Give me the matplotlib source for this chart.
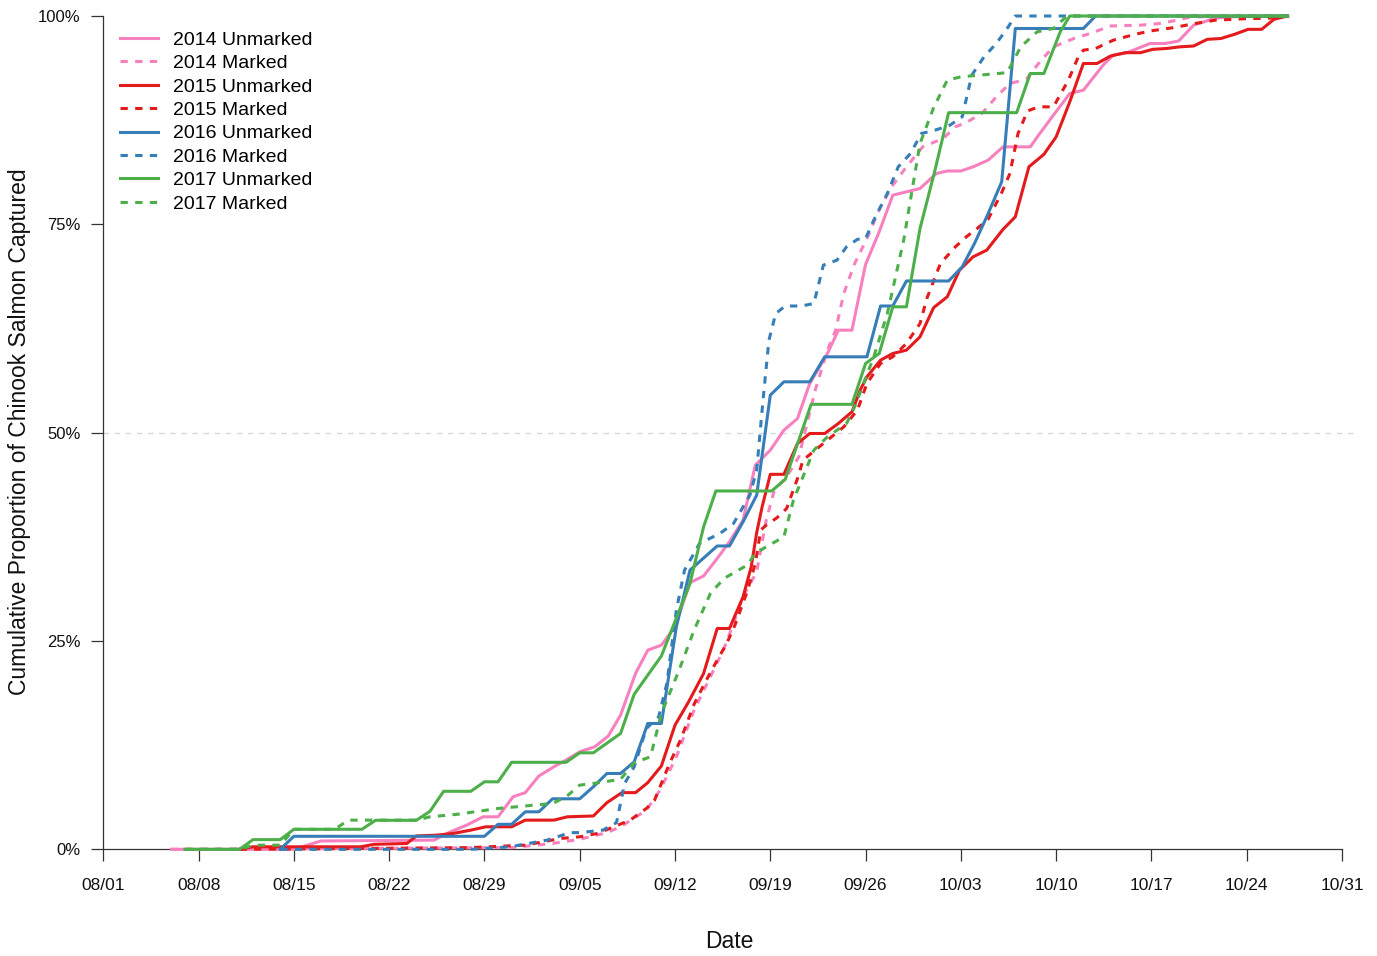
import matplotlib
matplotlib.use("Agg")
import matplotlib.pyplot as plt
import numpy as np

plt.rcParams['font.family'] = ['Liberation Sans', 'DejaVu Sans']

# ---------------- data (days since 08/01, cumulative % captured) ----------------
tick_days = [0, 7, 14, 21, 28, 35, 42, 49, 56, 63, 70, 77, 84, 91]
tick_labels = ["08/01", "08/08", "08/15", "08/22", "08/29", "09/05", "09/12",
               "09/19", "09/26", "10/03", "10/10", "10/17", "10/24", "10/31"]
y_ticks = [0, 0.25, 0.5, 0.75, 1.0]
y_tick_labels = ["0%", "25%", "50%", "75%", "100%"]

u2014_day = [5, 14, 16, 24.3, 25.5, 26.7, 27.9, 29, 30.1, 31, 32, 33.1, 34.1, 35, 36.1, 37.1, 38, 39.1, 40, 41,
             42, 43.1, 44.1, 45.1, 46, 47, 47.9, 49, 50, 51, 51.9, 53.2, 54, 55, 56, 57, 58, 59, 60, 61.2,
             62, 63, 63.9, 65, 66.1, 68.1, 68.8, 69.8, 71, 72, 73.5, 74.2, 75.2, 76.9, 78, 79, 80.1, 81.6, 82.5, 87]
u2014_pct = [0, 0, 1.0, 1.1, 2.1, 2.9, 3.9, 3.9, 6.3, 6.8, 8.8, 9.9, 10.8, 11.7, 12.3, 13.6, 16.1, 21.1, 23.9, 24.5,
             26.7, 32.0, 32.8, 34.9, 36.9, 39.5, 46.1, 47.9, 50.3, 51.7, 55.9, 59.5, 62.3, 62.3, 70.2, 74.1, 78.5, 78.9, 79.3, 81.1,
             81.4, 81.4, 81.9, 82.7, 84.3, 84.3, 85.9, 88.1, 90.7, 91.1, 94.2, 95.3, 95.6, 96.7, 96.7, 97.0, 98.9, 99.7, 99.9, 100]

m2014_day = [5, 30, 33, 35, 37, 38, 39.9, 40.9, 42.1, 43.4, 44.6, 45.6, 46.3, 47, 48, 48.7, 49.3, 50.2, 51.1, 52.3, 53.2,
             53.8, 54.4, 55.2, 56.1, 57.1, 58, 59, 60.2, 61.7, 62.6, 63.5, 64.6, 65.6, 66.6, 67.8, 68.8, 69.8, 71.3, 72.5, 74,
             76.2, 77.6, 78.9, 79.9, 87]
m2014_pct = [0, 0.2, 0.7, 1.2, 2.0, 2.7, 4.7, 7.1, 11.1, 16.7, 20.7, 24.1, 27.1, 30.3, 33.3, 39.5, 43.1, 44.7, 47.1, 55.1, 59.9,
             62.3, 66.7, 70.3, 73.3, 77.1, 79.7, 81.9, 84.3, 85.3, 86.7, 87.3, 88.4, 90.3, 91.9, 92.4, 94.5, 96.3, 97.3, 97.9, 98.8,
             98.9, 99.1, 99.5, 99.9, 100]

u2015_day = [10, 11, 18.9, 19.9, 22.3, 23, 24.5, 25.7, 27, 28.1, 30, 31, 33.1, 34.1, 36, 37, 38.1, 39.1, 40, 41,
             42, 43, 44.1, 45.1, 46, 47, 47.6, 48, 48.4, 49, 50, 51, 51.9, 53, 54, 55, 55.6, 56.1, 57.1, 58,
             59, 60, 61, 62, 62.9, 63.9, 64.9, 66.1, 67, 68, 69.1, 70, 71, 72, 73, 74, 75.1, 76.2, 77.1, 78.1,
             79.1, 80.1, 81.1, 82.1, 83.1, 84.1, 85.1, 86, 87]
u2015_pct = [0, 0.3, 0.3, 0.6, 0.7, 1.6, 1.7, 1.9, 2.3, 2.7, 2.7, 3.5, 3.5, 3.9, 4.0, 5.6, 6.8, 6.8, 8.0, 10.0,
             14.9, 17.7, 21.1, 26.5, 26.5, 30.3, 33.9, 38.0, 41.1, 45.0, 45.0, 48.7, 49.9, 49.9, 51.1, 52.5, 55.1, 56.7, 58.7, 59.5,
             59.9, 61.5, 65.0, 66.3, 69.5, 71.1, 71.9, 74.4, 75.9, 81.9, 83.4, 85.5, 89.7, 94.3, 94.3, 95.2, 95.6, 95.6, 96.0, 96.1,
             96.3, 96.4, 97.2, 97.3, 97.8, 98.4, 98.4, 99.6, 100]

m2015_day = [10, 26.9, 31, 33.6, 35, 36.3, 37.5, 38.7, 39.9, 40.5, 40.9, 41.6, 42.4, 43.4, 44.3, 45.1, 45.8, 46.4, 47.3, 47.9,
             48.3, 48.7, 49.5, 50.2, 51, 51.4, 52.3, 54.4, 55.4, 56.1, 57.1, 58, 59, 60, 60.5, 61.5, 62.6, 63.4, 64.2, 65,
             66, 66.6, 67.2, 67.9, 68.7, 69.8, 70.9, 71.6, 72, 72.9, 74.2, 75.8, 76.9, 78.6, 80.2, 81.7, 84.2, 85.5, 86.7, 87]
m2015_pct = [0, 0.2, 0.5, 1.3, 1.5, 1.9, 2.7, 3.5, 4.9, 5.9, 7.5, 10.3, 13.1, 17.4, 20.3, 22.7, 24.7, 26.9, 30.9, 34.3,
             38.3, 38.9, 39.8, 40.9, 44.5, 46.7, 47.9, 50.7, 52.7, 55.9, 58.3, 59.1, 60.7, 63.1, 66.1, 70.3, 72.3, 73.5, 74.5, 75.6,
             78.8, 81.1, 85.9, 88.6, 89.1, 89.1, 92.3, 95.0, 95.9, 96.1, 97.1, 97.8, 98.2, 98.6, 99.1, 99.5, 99.7, 99.7, 100, 100]

u2016_day = [13, 14, 28, 29, 30, 31, 32, 33, 35, 36, 37, 38, 39, 40, 41, 42.1, 43.1, 45.1, 46, 47,
             48, 49, 50, 51.9, 53, 56.1, 57.1, 58, 59, 62.1, 63.1, 64, 64.9, 66, 67, 72, 72.9, 87]
u2016_pct = [0, 1.56, 1.56, 3.0, 3.0, 4.5, 4.5, 6.06, 6.06, 7.5, 9.1, 9.1, 10.5, 15.1, 15.1, 26.7, 33.5, 36.4, 36.4, 39.3,
             42.5, 54.5, 56.1, 56.1, 59.1, 59.1, 65.2, 65.2, 68.2, 68.2, 69.9, 72.7, 75.9, 80.1, 98.5, 98.5, 100, 100]

m2016_day = [13, 27, 29.9, 32.6, 34.3, 35, 36.7, 37.7, 38.3, 39, 39.9, 40.8, 41.4, 42.1, 42.7, 43.8, 45.3, 46.3, 47.5, 48,
             48.5, 48.9, 49.4, 50.1, 51.3, 52.2, 52.9, 53.9, 54.6, 55.4, 56, 56.6, 57.6, 58.4, 59.3, 60.1, 61.1, 62.2, 63.1, 63.8,
             64.7, 65.6, 66.4, 67, 87]
m2016_pct = [0, 0, 0.3, 1.1, 2.0, 2.0, 2.3, 3.2, 7.9, 9.9, 14.5, 15.9, 19.9, 28.7, 33.5, 36.7, 37.9, 39.1, 42.5, 45.5,
             54.5, 61.1, 64.3, 65.2, 65.2, 65.5, 70.1, 70.7, 72.3, 73.2, 73.3, 75.5, 78.7, 81.9, 83.5, 85.9, 86.3, 86.9, 87.9, 92.9,
             95.1, 96.7, 98.5, 100, 100]

u2017_day = [6, 10, 11, 13, 14, 19, 20, 23, 24, 25, 27, 28, 29, 30, 34, 35, 36, 38, 39, 41,
             43.1, 44.1, 45, 49.1, 50.1, 52, 55, 56, 57, 58, 59, 60, 61.1, 62.1, 67.1, 68.1, 69.1, 70.3, 71, 87]
u2017_pct = [0, 0, 1.16, 1.16, 2.4, 2.4, 3.48, 3.48, 4.56, 6.96, 6.96, 8.1, 8.1, 10.44, 10.44, 11.58, 11.58, 13.9, 18.6, 23.2,
             31.9, 38.7, 43.0, 43.0, 44.4, 53.4, 53.4, 58.3, 59.5, 65.1, 65.1, 74.5, 81.5, 88.4, 88.4, 93.1, 93.1, 98.1, 100, 100]

m2017_day = [6, 10, 11, 13, 14, 17, 18, 23, 24, 26, 29, 33, 34, 35, 36, 38, 39, 40.2, 41, 42.3,
             43.4, 44.6, 45.6, 47.3, 47.9, 48.7, 50, 50.7, 51.4, 52.2, 53.2, 54.6, 55.2, 56.6, 57.6, 58.8, 59.5, 60, 61,
             62, 63, 66.4, 67.4, 68.6, 69.8, 70.8, 87]
m2017_pct = [0, 0, 0.5, 0.5, 2.4, 2.4, 3.5, 3.5, 3.9, 4.2, 4.9, 5.5, 6.3, 7.7, 7.9, 8.4, 10.4, 11.1, 16.3, 21.5,
             26.3, 30.7, 32.5, 34.1, 35.5, 36.3, 37.5, 41.9, 44.7, 47.9, 49.5, 51.1, 53.1, 59.1, 64.3, 73.1, 79.9, 84.7, 89.0,
             92.3, 92.7, 93.2, 96.3, 98.1, 98.5, 100, 100]

series_labels = ["2014 Unmarked", "2014 Marked", "2015 Unmarked", "2015 Marked",
                 "2016 Unmarked", "2016 Marked", "2017 Unmarked", "2017 Marked"]
series_data = [(u2014_day, u2014_pct), (m2014_day, m2014_pct),
               (u2015_day, u2015_pct), (m2015_day, m2015_pct),
               (u2016_day, u2016_pct), (m2016_day, m2016_pct),
               (u2017_day, u2017_pct), (m2017_day, m2017_pct)]

# ---------------- styling ----------------
colors = ["#F781BF", "#F781BF", "#E41A1C", "#E41A1C", "#377EB8", "#377EB8", "#4DAF4A", "#4DAF4A"]
dashed = (0, (2.4, 2.4))
styles = ["-", dashed, "-", dashed, "-", dashed, "-", dashed]

W, H = 1377, 956
fig = plt.figure(figsize=(W / 100, H / 100), dpi=100)
x0, x1 = 103.3, 1357
y0, y1 = 849.3, 16
ax = fig.add_axes([x0 / W, (H - y0) / H, (x1 - x0) / W, (y0 - y1) / H])

px_per_day = (1342 - 103.3) / 91
ax.set_xlim(0, (x1 - x0) / px_per_day)
ax.set_ylim(0, 1)

ax.axhline(0.5, color="#d8d8d8", lw=1.0, ls=(0, (4, 4)), zorder=1)

handles = []
for (d, p), c, s, lab in zip(series_data, colors, styles, series_labels):
    ln, = ax.plot(d, np.array(p) / 100.0, color=c, ls=s, lw=2.2, label=lab,
                  clip_on=False, zorder=3, solid_joinstyle="round")
    handles.append(ln)

for sp in ["top", "right"]:
    ax.spines[sp].set_visible(False)
for sp in ["left", "bottom"]:
    ax.spines[sp].set_color("#333333")
    ax.spines[sp].set_linewidth(0.9)
ax.spines["left"].set_bounds(0, 1)
ax.spines["bottom"].set_bounds(0, 91)

ax.set_xticks(tick_days)
ax.set_xticklabels(tick_labels)
ax.set_yticks(y_ticks)
ax.set_yticklabels(y_tick_labels)
ax.tick_params(axis="x", direction="out", length=8.5, width=0.9, color="#333333",
               labelsize=12.5, pad=12, labelcolor="#111111")
ax.tick_params(axis="y", direction="out", length=8.5, width=0.9, color="#333333",
               labelsize=12, pad=8, labelcolor="#111111")

fig.text(729 / W, 1 - 941 / H, "Date", ha="center", va="center", fontsize=16.5, color="#111111")
fig.text(20 / W, 1 - 432 / H, "Cumulative Proportion of Chinook Salmon Captured",
         ha="center", va="center", rotation=90, fontsize=16.5, color="#111111")

ax.legend(handles, series_labels, loc="upper left", bbox_to_anchor=(120 / W, 1 - 31 / H),
          bbox_transform=fig.transFigure, frameon=False, fontsize=14, handlelength=1.96,
          handletextpad=0.77, labelspacing=0.3, borderpad=0, borderaxespad=0)

fig.savefig("out.png", dpi=100)
